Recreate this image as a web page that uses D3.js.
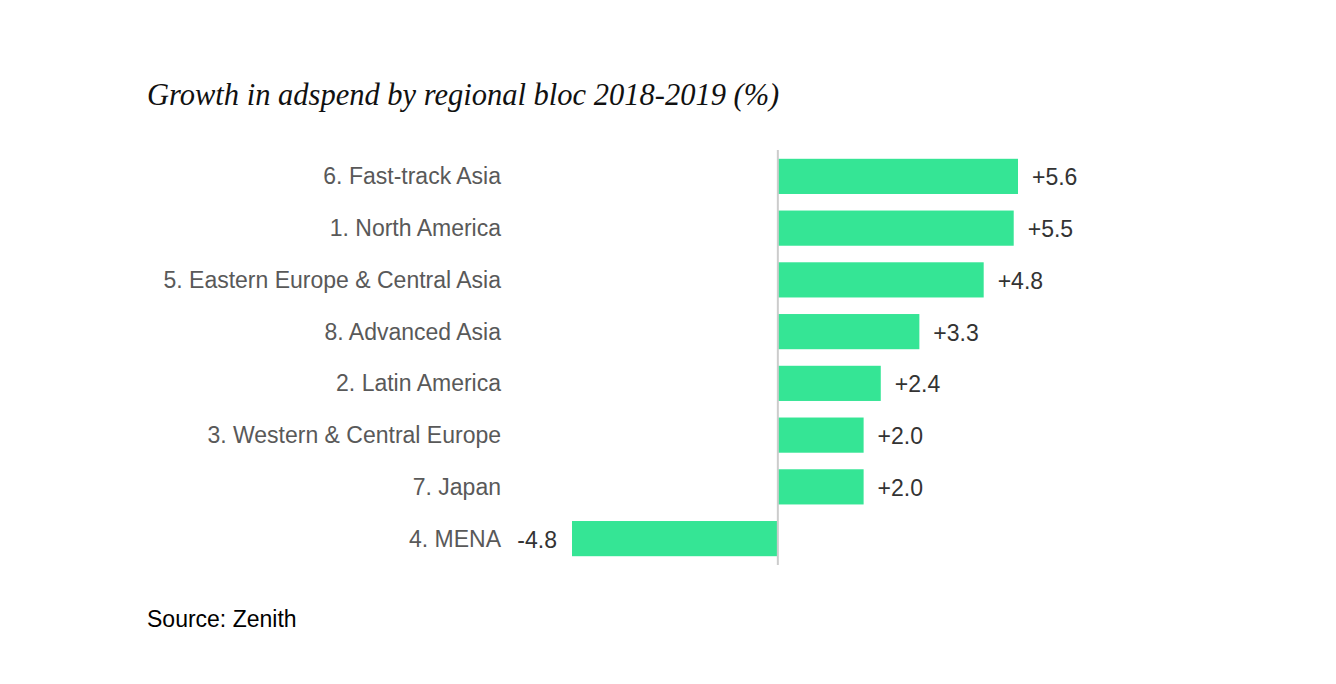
<!DOCTYPE html>
<html>
<head>
<meta charset="utf-8">
<script src="https://cdn.jsdelivr.net/npm/d3@7"></script>
<style>
  body { margin: 0; background: #fff; }
</style>
</head>
<body>
<div id="chart"></div>
<script>
// Data
const categories = [
  '6. Fast-track Asia',
  '1. North America',
  '5. Eastern Europe & Central Asia',
  '8. Advanced Asia',
  '2. Latin America',
  '3. Western & Central Europe',
  '7. Japan',
  '4. MENA'
];
const growth = [5.6, 5.5, 4.8, 3.3, 2.4, 2.0, 2.0, -4.8];

const title = 'Growth in adspend by regional bloc 2018-2019 (%)';
const source = 'Source: Zenith';

const width = 1336;
const height = 684;

const svg = d3.select('#chart')
  .append('svg')
  .attr('width', width)
  .attr('height', height);

const data = categories.map((name, i) => ({ name, value: growth[i] }));

const x = d3.scaleLinear()
  .domain([-4.8, 5.6])
  .range([572, 1018]);

const y = d3.scaleBand()
  .domain(categories)
  .range([150, 565])
  .paddingInner(0.32)
  .paddingOuter(0.17);

// Title
svg.append('text')
  .attr('x', 147)
  .attr('y', 105)
  .attr('font-family', 'Liberation Serif, serif')
  .attr('font-style', 'italic')
  .attr('font-size', '30.5px')
  .attr('fill', '#111')
  .text(title);

// Bars
svg.selectAll('.bar')
  .data(data)
  .enter()
  .append('rect')
  .attr('class', 'bar')
  .attr('x', (d) => x(Math.min(0, d.value)))
  .attr('y', (d) => y(d.name))
  .attr('width', (d) => Math.abs(x(d.value) - x(0)))
  .attr('height', y.bandwidth())
  .style('fill', '#35e595');

// Zero line
svg.append('line')
  .attr('x1', x(0))
  .attr('x2', x(0))
  .attr('y1', 150)
  .attr('y2', 565)
  .style('stroke', '#cccccc')
  .style('stroke-width', 2);

// Category labels
svg.selectAll('.cat-label')
  .data(data)
  .enter()
  .append('text')
  .attr('class', 'cat-label')
  .attr('x', 501)
  .attr('y', (d) => y(d.name) + y.bandwidth() / 2)
  .attr('dy', '0.35em')
  .attr('text-anchor', 'end')
  .attr('font-family', 'Liberation Sans, Arial, sans-serif')
  .attr('font-size', '23px')
  .attr('fill', '#595959')
  .text((d) => d.name);

// Value labels
const fmt = (v) => (v > 0 ? '+' : '') + v.toFixed(1);
svg.selectAll('.val-label')
  .data(data)
  .enter()
  .append('text')
  .attr('class', 'val-label')
  .attr('x', (d) => (d.value >= 0 ? x(d.value) + 14 : x(d.value) - 15))
  .attr('y', (d) => y(d.name) + y.bandwidth() / 2 + 1)
  .attr('dy', '0.35em')
  .attr('text-anchor', (d) => (d.value >= 0 ? 'start' : 'end'))
  .attr('font-family', 'Liberation Sans, Arial, sans-serif')
  .attr('font-size', '23px')
  .attr('fill', '#333333')
  .text((d) => fmt(d.value));

// Source
svg.append('text')
  .attr('x', 147)
  .attr('y', 627)
  .attr('font-family', 'Liberation Sans, Arial, sans-serif')
  .attr('font-size', '23px')
  .attr('fill', '#000')
  .text(source);
</script>
</body>
</html>
